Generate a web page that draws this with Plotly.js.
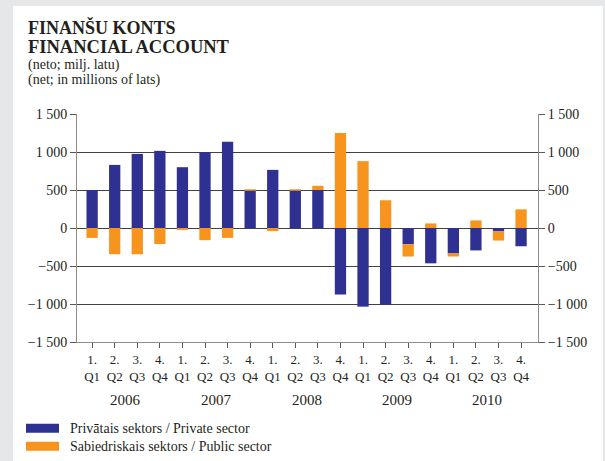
<!DOCTYPE html>
<html>
<head>
<meta charset="utf-8">
<script src="https://cdn.plot.ly/plotly-3.0.1.min.js"></script>
<style>
  html, body { margin: 0; padding: 0; background: #e6e7e8; width: 605px; height: 461px; overflow: hidden; }
  #panel { position: absolute; left: 13px; top: 6px; width: 590px; height: 455px; background: #ffffff; }
  #chart { position: absolute; left: 0; top: 0; width: 605px; height: 461px; }
</style>
</head>
<body>
<div id="panel"></div>
<div id="chart"></div>
<script>
// ---- data ----
const quarters = ["1.<br>Q1","2.<br>Q2","3.<br>Q3","4.<br>Q4","1.<br>Q1","2.<br>Q2","3.<br>Q3","4.<br>Q4","1.<br>Q1","2.<br>Q2","3.<br>Q3","4.<br>Q4","1.<br>Q1","2.<br>Q2","3.<br>Q3","4.<br>Q4","1.<br>Q1","2.<br>Q2","3.<br>Q3","4.<br>Q4"];
const years = ["2006","2007","2008","2009","2010"];
const privateSector = [500, 830, 975, 1015, 800, 1000, 1135, 490, 765, 490, 500, -875, -1035, -1010, -215, -465, -335, -295, -45, -240];
const publicSector  = [-130, -345, -345, -210, -25, -160, -130, 20, -40, 20, 55, 1250, 880, 365, -160, 60, -40, 100, -120, 245];
const yTickVals = [-1500, -1000, -500, 0, 500, 1000, 1500];
const yTickText = ["\u22121 500", "\u22121 000", "\u2212500", "0", "500", "1 000", "1 500"];
const legendNames = ["Privātais sektors / Private sector", "Sabiedriskais sektors / Public sector"];

const idx = quarters.map((_, i) => i);
const blue = "#2e3192", orange = "#f7941d";
const font = "Liberation Serif, Times New Roman, serif";
const txt = "#231f20", grid = "#414042", axisCol = "#8a8c8e", tickCol = "#58595b";

const traces = [
  { type: "bar", x: idx, y: privateSector, name: legendNames[0], marker: { color: blue }, hoverinfo: "y" },
  { type: "bar", x: idx, y: publicSector, name: legendNames[1], marker: { color: orange }, hoverinfo: "y" },
  { type: "scatter", x: [0], y: [0], yaxis: "y2", mode: "markers", marker: { opacity: 0 }, showlegend: false, hoverinfo: "skip" }
];

// plot area pixel geometry
const L = 77, R = 538, T = 114.3, B = 342.3;
const W = R - L, H = B - T;
const px = x => (x - L) / W;
const py = y => (B - y) / H;

const annotations = [
  { text: "<b>FINANŠU KONTS</b>", x: px(26), y: py(28), size: 18 },
  { text: "<b>FINANCIAL ACCOUNT</b>", x: px(26), y: py(47), size: 18.5 },
  { text: "(neto; milj. latu)", x: px(26), y: py(65), size: 14 },
  { text: "(net; in millions of lats)", x: px(26), y: py(80.5), size: 14 },
  { text: legendNames[0], x: px(68), y: py(428.5), size: 14 },
  { text: legendNames[1], x: px(68), y: py(446.5), size: 14 }
].map(a => ({
  text: a.text, xref: "paper", yref: "paper", x: a.x, y: a.y,
  xanchor: "left", yanchor: "middle", showarrow: false,
  font: { family: font, size: a.size, color: txt }
}));

years.forEach((yr, i) => {
  annotations.push({
    text: yr, xref: "x", yref: "paper", x: i * 4 + 1.5, y: py(400),
    xanchor: "center", yanchor: "middle", showarrow: false,
    font: { family: font, size: 15, color: txt }
  });
});

const shapes = [
  { type: "rect", xref: "paper", yref: "paper", x0: px(26), x1: px(59), y0: py(433), y1: py(424), fillcolor: blue, line: { width: 0 } },
  { type: "rect", xref: "paper", yref: "paper", x0: px(26), x1: px(59), y0: py(451), y1: py(442), fillcolor: orange, line: { width: 0 } }
];

const yax = {
  range: [-1500, 1500], tickvals: yTickVals, ticktext: yTickText,
  showgrid: true, gridcolor: grid, gridwidth: 1,
  zeroline: true, zerolinecolor: grid, zerolinewidth: 1,
  showline: true, linecolor: axisCol, linewidth: 1,
  ticks: "outside", ticklen: 6, tickcolor: tickCol,
  tickfont: { family: font, size: 14, color: txt },
  fixedrange: true
};

const layout = {
  width: 605, height: 461,
  margin: { l: L, r: 605 - R, t: T, b: 461 - B, pad: 0 },
  paper_bgcolor: "rgba(0,0,0,0)", plot_bgcolor: "rgba(0,0,0,0)",
  barmode: "relative", bargap: 0.5,
  showlegend: false,
  xaxis: {
    range: [-0.67, 19.75], tickvals: idx, ticktext: quarters,
    showgrid: false, zeroline: false,
    showline: true, linecolor: axisCol, linewidth: 1,
    ticks: "outside", ticklen: 5, tickcolor: tickCol,
    tickfont: { family: font, size: 13, color: txt },
    fixedrange: true
  },
  yaxis: Object.assign({ side: "left" }, yax),
  yaxis2: Object.assign({}, yax, { side: "right", overlaying: "y", showgrid: false, zeroline: false }),
  annotations: annotations,
  shapes: shapes
};

Plotly.newPlot("chart", traces, layout, { displayModeBar: false, staticPlot: true });
</script>
</body>
</html>
